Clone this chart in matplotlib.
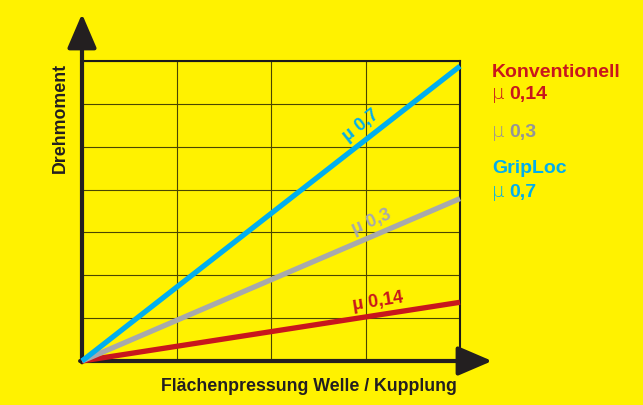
import numpy as np
import matplotlib.pyplot as plt

# line data (relative units)
x_vals = [0, 4]
series_names = ["μ 0,14", "μ 0,3", "μ 0,7"]
series_ends = [1.37, 3.79, 6.88]
series_colors = ["#C8161D", "#A7A9AC", "#00AEEF"]
label_x = [3.16, 3.12, 3.05]

legend_rows = [
    ("Konventionell", None, "#C8161D"),
    ("μ", "0,14", "#C8161D"),
    ("μ", "0,3", "#939598"),
    ("GripLoc", None, "#00AEEF"),
    ("μ", "0,7", "#00AEEF"),
]
legend_y = [77, 99, 137, 173, 197]

bg = "#FFF200"
plt.rcParams['font.family'] = ['Liberation Sans', 'DejaVu Sans']

fig = plt.figure(figsize=(6.43, 4.06), dpi=100, facecolor=bg)
W, H = 643, 406
x0, x1, y0, y1 = 82, 460, 62, 362
ax = fig.add_axes([x0 / W, 1 - y1 / H, (x1 - x0) / W, (y1 - y0) / H])
ax.set_facecolor(bg)
ax.set_xlim(0, 4)
ax.set_ylim(0, 7)
ax.set_xticks(range(5))
ax.set_yticks(range(8))
ax.tick_params(length=0, labelbottom=False, labelleft=False)
ax.grid(True, color="#4a4600", lw=0.8)
for s in ["top", "right"]:
    ax.spines[s].set_linewidth(1.5)
    ax.spines[s].set_color("#1a1a1a")
for s in ["left", "bottom"]:
    ax.spines[s].set_visible(False)

# axes arrows
arrow = dict(arrowstyle="-|>,head_length=1.05,head_width=0.45", mutation_scale=20,
             lw=3, color="#231F20", shrinkA=0, shrinkB=0)
ax.annotate("", xy=(0, 8.1), xytext=(0, -0.03), arrowprops=arrow, annotation_clip=False)
ax.annotate("", xy=(4.34, 0), xytext=(-0.02, 0), arrowprops=arrow, annotation_clip=False)

fig.canvas.draw()
for name, end, col, lx in zip(series_names, series_ends, series_colors, label_x):
    ax.plot(x_vals, [0, end], color=col, lw=3.8, solid_capstyle="butt", clip_on=False, zorder=3)
    p0 = ax.transData.transform((0, 0))
    p1 = ax.transData.transform((4, end))
    ang = np.degrees(np.arctan2(p1[1] - p0[1], p1[0] - p0[0]))
    ly = end * lx / 4
    off = 10.5
    dx = -off * np.sin(np.radians(ang))
    dy = off * np.cos(np.radians(ang))
    ax.annotate(name, xy=(lx, ly), xytext=(dx, dy), textcoords="offset points",
                rotation=ang, rotation_mode="anchor", ha="center", va="center",
                color=col, fontsize=13, fontweight="bold", zorder=4)

fig.text(60 / W, 1 - 118 / H, "Drehmoment", rotation=90, ha="center", va="center",
         fontsize=12.8, fontweight="bold", color="#231F20")
fig.text(309 / W, 1 - 387 / H, "Flächenpressung Welle / Kupplung", ha="center", va="center",
         fontsize=12.8, fontweight="bold", color="#231F20")

for (t1, t2, col), yb in zip(legend_rows, legend_y):
    if t2 is None:
        fig.text(492 / W, 1 - yb / H, t1, ha="left", va="baseline", fontsize=14,
                 fontweight="bold", color=col)
    else:
        fig.text(492 / W, 1 - yb / H, t1, ha="left", va="baseline", fontsize=14,
                 color=col, family="DejaVu Sans", fontweight="light")
        fig.text(509 / W, 1 - yb / H, t2, ha="left", va="baseline", fontsize=14,
                 fontweight="bold", color=col)

fig.savefig("out.png", dpi=100, facecolor=bg)
